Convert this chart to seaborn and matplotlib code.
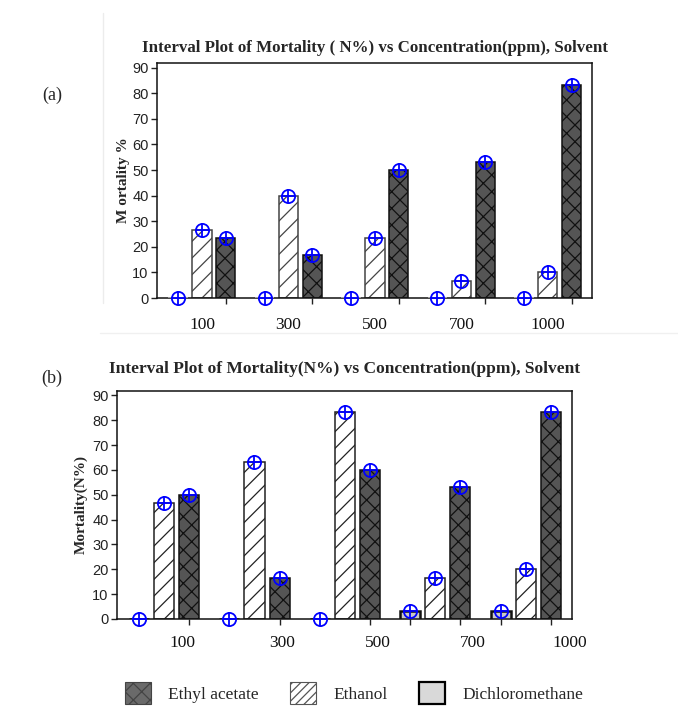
import matplotlib
matplotlib.use("Agg")
import matplotlib.pyplot as plt
import seaborn as sns
import pandas as pd
from matplotlib.patches import Patch
from matplotlib.lines import Line2D

# ---------------- data ----------------
concentrations = ["100", "300", "500", "700", "1000"]
solvents = ["Dichloromethane", "Ethanol", "Ethyl acetate"]

a_dichloromethane = [0, 0, 0, 0, 0]
a_ethanol = [26.7, 40.0, 23.3, 6.7, 10.0]
a_ethyl_acetate = [23.3, 16.7, 50.0, 53.3, 83.3]

b_dichloromethane = [0, 0, 0, 3.3, 3.3]
b_ethanol = [46.7, 63.3, 83.3, 16.7, 20.0]
b_ethyl_acetate = [50.0, 16.7, 60.0, 53.3, 83.3]

y_ticks = [0, 10, 20, 30, 40, 50, 60, 70, 80, 90]

title_a = "Interval Plot of Mortality ( N%) vs Concentration(ppm), Solvent"
title_b = "Interval Plot of Mortality(N%) vs Concentration(ppm), Solvent"
ylabel_a = "M ortality %"
ylabel_b = "Mortality(N%)"
legend_labels = ["Ethyl acetate", "Ethanol", "Dichloromethane"]


def long_df(dcm, eth, ea):
    rows = []
    for vals, s in zip([dcm, eth, ea], solvents):
        for c, v in zip(concentrations, vals):
            rows.append({"Concentration": c, "Solvent": s, "Mortality": v})
    return pd.DataFrame(rows)


df_a = long_df(a_dichloromethane, a_ethanol, a_ethyl_acetate)
df_b = long_df(b_dichloromethane, b_ethanol, b_ethyl_acetate)

# ---------------- style ----------------
sns.set_theme(style="ticks")
plt.rcParams["font.family"] = ["Liberation Serif", "DejaVu Serif"]
plt.rcParams["hatch.linewidth"] = 0.9
SERIF = ["Liberation Serif", "DejaVu Serif"]
SANS = ["Liberation Sans Narrow", "Liberation Sans", "DejaVu Sans"]

face = {"Dichloromethane": "#c8c8c8", "Ethanol": "#ffffff", "Ethyl acetate": "#555555"}

W, H = 678, 713
fig = plt.figure(figsize=(W / 100, H / 100), dpi=100)
fig.patch.set_facecolor("white")

ax_a = fig.add_axes([157 / W, 1 - 298 / H, 435 / W, 235 / H])
ax_b = fig.add_axes([117 / W, 1 - 619 / H, 455 / W, 228 / H])


def draw(ax, df, dcm_edge, eth_edge, dcm_lw):
    sns.barplot(data=df, x="Concentration", y="Mortality", hue="Solvent",
                order=concentrations, hue_order=solvents, palette=face,
                width=0.83, gap=0.2, errorbar=None, legend=False,
                linewidth=1.1, ax=ax)
    xs, ys, tick_x = [], [], []
    for cont, solv in zip(ax.containers, solvents):
        for bar in cont:
            if solv == "Ethyl acetate":
                bar.set_hatch("xx")
                bar.set_edgecolor("#111111")
            elif solv == "Ethanol":
                bar.set_hatch("//")
                bar.set_edgecolor(eth_edge)
            else:
                bar.set_edgecolor(dcm_edge)
                bar.set_linewidth(dcm_lw)
                bar.set_zorder(4)
            cx = bar.get_x() + bar.get_width() / 2
            h = bar.get_height()
            xs.append(cx)
            ys.append(h)
            if h > 0:
                tick_x.append(cx)
    ax.plot(xs, ys, "o", mfc="none", mec="#0000ff", ms=9.5, mew=1.3,
            clip_on=False, zorder=6)
    ax.plot(xs, ys, "+", color="#0000ff", ms=9.5, mew=1.3,
            clip_on=False, zorder=6)
    ax.set_ylim(0, 91.8)
    ax.set_xlim(-0.52, 4.51)
    ax.set_yticks(y_ticks)
    ax.set_yticklabels([str(t) for t in y_ticks], family=SANS, fontsize=10.5,
                       color="#222222")
    ax.set_xticks(tick_x, minor=True)
    ax.tick_params(axis="x", which="minor", length=4, width=1, color="#222222")
    ax.tick_params(axis="x", which="major", length=0)
    ax.tick_params(axis="y", length=4, width=1, pad=2, color="#222222")
    ax.set_xlabel("")
    for sp in ax.spines.values():
        sp.set_visible(True)
        sp.set_color("#111111")
        sp.set_linewidth(1.1)


draw(ax_a, df_a, "#b0b0b0", "#444444", 1.2)
draw(ax_b, df_b, "#111111", "#222222", 1.8)

# panel (a) x labels
ax_a.set_xticks(range(len(concentrations)))
ax_a.set_xticklabels(concentrations, family=SERIF, fontsize=12.5, color="#111111")
ax_a.tick_params(axis="x", which="major", pad=14)
# panel (b) x labels (placed under the chart, as in the original)
ax_b.set_xticks(range(len(concentrations)))
ax_b.set_xticklabels([""] * len(concentrations))
b_label_px = [182, 282, 378, 473, 570]
for lbl, px in zip(concentrations, b_label_px):
    fig.text(px / W, 1 - 643 / H, lbl, ha="center", va="center",
             family=SERIF, fontsize=12.5, color="#111111")

# titles
ax_a.set_title(title_a, family=SERIF, fontweight="bold", fontsize=12.2, pad=8)
ax_b.set_title(title_b, family=SERIF, fontweight="bold", fontsize=12.5, pad=13)

# y labels
ax_a.set_ylabel(ylabel_a, family=SERIF, fontweight="bold", fontsize=11)
ax_a.yaxis.set_label_coords(-0.062, 0.5)
ax_b.set_ylabel(ylabel_b, family=SERIF, fontweight="bold", fontsize=11)
ax_b.yaxis.set_label_coords(-0.064, 0.5)

# panel letters
fig.text(52 / W, 1 - 95 / H, "(a)", ha="center", va="center", family=SERIF, fontsize=13)
fig.text(52 / W, 1 - 378 / H, "(b)", ha="center", va="center", family=SERIF, fontsize=13)

# faint frame edges of the original figure panel
fig.add_artist(Line2D([103 / W, 103 / W], [1 - 13 / H, 1 - 303 / H], color="#ececec", lw=1))
fig.add_artist(Line2D([100 / W, 1.0], [1 - 333 / H, 1 - 333 / H], color="#f0f0f0", lw=1))

# legend
handles = [
    Patch(facecolor="#6a6a6a", edgecolor="#444444", hatch="xx", linewidth=0.8),
    Patch(facecolor="#ffffff", edgecolor="#555555", hatch="////", linewidth=0.8),
    Patch(facecolor="#d9d9d9", edgecolor="#000000", linewidth=1.6),
]
fig.legend(handles, legend_labels, loc="center", bbox_to_anchor=(354 / W, 1 - 693 / H),
           ncol=3, frameon=False, handlelength=1.5, handleheight=1.5,
           handletextpad=1.0, columnspacing=1.8,
           prop={"family": SERIF, "size": 12.5})

fig.savefig("out.png", dpi=100)
